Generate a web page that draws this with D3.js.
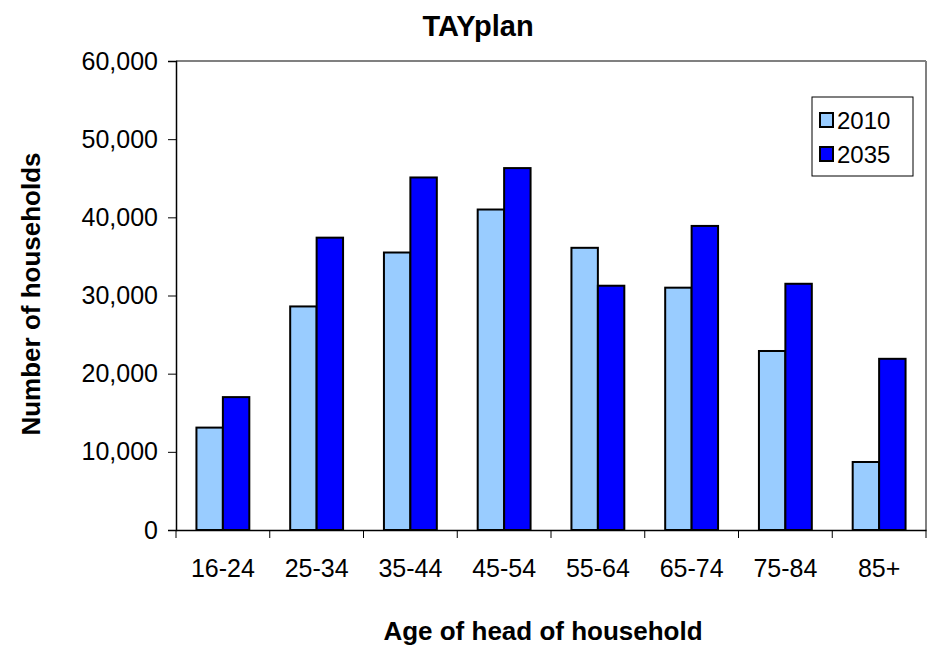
<!DOCTYPE html>
<html>
<head>
<meta charset="utf-8">
<script src="https://cdn.jsdelivr.net/npm/d3@7"></script>
<style>
  body { margin: 0; background: #fff; }
  svg { font-family: "Liberation Sans", Arial, sans-serif; }
</style>
</head>
<body>
<svg id="chart"></svg>
<script>
const ageGroups = ["16-24", "25-34", "35-44", "45-54", "55-64", "65-74", "75-84", "85+"]
const years = ["2010", "2035"]
const households2010 = [13100, 28600, 35500, 41000, 36100, 31000, 22900, 8700]
const households2035 = [17000, 37400, 45100, 46300, 31250, 38900, 31500, 21900]
const yTicks = [0, 10000, 20000, 30000, 40000, 50000, 60000]
const yearColors = ["#99ccff", "#0000ff"]

const width = 928, height = 647
const margin = { top: 61, right: 2, bottom: 117, left: 176 }
const innerW = width - margin.left - margin.right
const innerH = height - margin.top - margin.bottom

const svg = d3.select("#chart").attr("width", width).attr("height", height)

const x = d3.scaleBand().domain(ageGroups).range([0, innerW]).paddingInner(0).paddingOuter(0)
const xSub = d3.scaleBand().domain(years).range([x.bandwidth() * 0.218, x.bandwidth() * 0.782])
const y = d3.scaleLinear().domain([0, 60000]).range([innerH, 0])
const color = d3.scaleOrdinal().domain(years).range(yearColors)

const g = svg.append("g").attr("transform", `translate(${margin.left},${margin.top})`)

// frame: top and right in grey
g.append("line").attr("x1", 0).attr("x2", innerW).attr("y1", 0).attr("y2", 0)
  .attr("stroke", "#808080").attr("stroke-width", 2)
g.append("line").attr("x1", innerW).attr("x2", innerW).attr("y1", 0).attr("y2", innerH)
  .attr("stroke", "#808080").attr("stroke-width", 2)

const rows = ageGroups.map((a, i) => ({ age: a, values: [households2010[i], households2035[i]] }))

g.selectAll(".group")
  .data(rows)
  .join("g")
  .attr("class", "group")
  .attr("transform", d => `translate(${x(d.age)},0)`)
  .selectAll("rect")
  .data(d => years.map((yr, j) => ({ year: yr, value: d.values[j] })))
  .join("rect")
  .attr("x", d => xSub(d.year))
  .attr("width", xSub.bandwidth())
  .attr("y", d => y(d.value))
  .attr("height", d => innerH - y(d.value))
  .attr("fill", d => color(d.year))
  .attr("stroke", "#000")
  .attr("stroke-width", 2)

// y axis
const yAxis = g.append("g")
  .call(d3.axisLeft(y).tickValues(yTicks).tickSize(8).tickPadding(10).tickFormat(d3.format(",")))
yAxis.select(".domain").attr("stroke", "#000").attr("stroke-width", 1.5)
yAxis.selectAll("text").attr("font-size", 25).attr("fill", "#000")

// x axis with ticks at category boundaries
const xAxis = g.append("g").attr("transform", `translate(0,${innerH})`)
  .call(d3.axisBottom(x).tickSize(0).tickPadding(29))
xAxis.select(".domain").attr("stroke", "#000").attr("stroke-width", 1.5)
xAxis.selectAll("text").attr("font-size", 25).attr("fill", "#000")
xAxis.selectAll(".bound")
  .data(ageGroups.concat(["end"]))
  .join("line")
  .attr("class", "bound")
  .attr("x1", (d, i) => i * x.step())
  .attr("x2", (d, i) => i * x.step())
  .attr("y1", 0).attr("y2", 8)
  .attr("stroke", "#000")

// titles
svg.append("text").attr("x", 478).attr("y", 36).attr("text-anchor", "middle")
  .attr("font-size", 29).attr("font-weight", "bold").text("TAYplan")
svg.append("text").attr("x", 543).attr("y", 640).attr("text-anchor", "middle")
  .attr("font-size", 26).attr("font-weight", "bold").text("Age of head of household")
svg.append("text").attr("transform", "translate(40,294) rotate(-90)").attr("text-anchor", "middle")
  .attr("font-size", 26).attr("font-weight", "bold").text("Number of households")

// legend
const legend = svg.append("g").attr("transform", "translate(812,97)")
legend.append("rect").attr("width", 101).attr("height", 79)
  .attr("fill", "#fff").attr("stroke", "#000").attr("stroke-width", 1)
const item = legend.selectAll(".item").data(years).join("g")
  .attr("class", "item").attr("transform", (d, i) => `translate(8,${23 + i * 34})`)
item.append("rect").attr("x", 0).attr("y", -7).attr("width", 13).attr("height", 14)
  .attr("fill", d => color(d)).attr("stroke", "#000").attr("stroke-width", 2)
item.append("text").attr("x", 17).attr("y", 9).attr("font-size", 24).text(d => d)
</script>
</body>
</html>
